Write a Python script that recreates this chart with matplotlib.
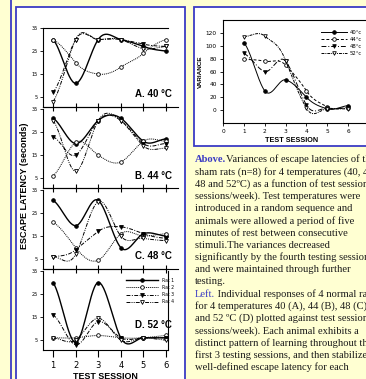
import numpy as np
import matplotlib
matplotlib.use("Agg")
import matplotlib.pyplot as plt
from matplotlib.patches import Rectangle

# ---------------- data ----------------
sessions = [1, 2, 3, 4, 5, 6]
rat_labels = ["Rat 1", "Rat 2", "Rat 3", "Rat 4"]
panel_titles = ["A. 40 °C", "B. 44 °C", "C. 48 °C", "D. 52 °C"]

lat_40 = [[30, 11, 30, 30, 27, 25],
          [30, 20, 15, 18, 24, 30],
          [7, 30, 30, 30, 28, 27],
          [3, 30, 30, 30, 26, 27]]
lat_44 = [[31, 20, 30, 31, 21, 22],
          [6, 20.5, 15, 12, 21, 21],
          [23, 15, 30, 30, 20, 20],
          [30, 8, 30, 30, 19, 18]]
lat_48 = [[30.5, 19.5, 30.5, 10, 16, 15],
          [21, 10, 4.5, 16, 15, 16],
          [6, 9, 17, 19, 16, 14],
          [6, 7, 30, 15, 14, 13]]
lat_52 = [[30, 4, 30, 6, 6, 6],
          [6, 6, 7, 6, 6, 7],
          [16, 3, 13, 6, 6, 6],
          [6, 5, 14.5, 5, 6, 5]]
latency_yticks = [5, 15, 25, 35]

var_labels = ["40°c", "44°c", "48°c", "52°c"]
var_40 = [105, 30, 47, 20, 2, 7]
var_44 = [79, 76, 70, 30, 5, 4]
var_48 = [88, 60, 76, 8, 3, 3]
var_52 = [114, 115, 77, 3, 2, 2]
var_yticks = [0, 20, 40, 60, 80, 100, 120]
var_xticks = [0, 1, 2, 3, 4, 5, 6]

caption_lines = [
    ("Above.", "Variances of escape latencies of the"),
    ("", "sham rats (n=8) for 4 temperatures (40, 44,"),
    ("", "48 and 52ºC) as a function of test sessions (2"),
    ("", "sessions/week). Test temperatures were"),
    ("", "introduced in a random sequence and"),
    ("", "animals were allowed a period of five"),
    ("", "minutes of rest between consecutive"),
    ("", "stimuli.The variances decreased"),
    ("", "significantly by the fourth testing session"),
    ("", "and were maintained through further"),
    ("", "testing."),
    ("Left.", " Individual responses of 4 normal rats"),
    ("", "for 4 temperatures 40 (A), 44 (B), 48 (C),"),
    ("", "and 52 ºC (D) plotted against test sessions (2"),
    ("", "sessions/week). Each animal exhibits a"),
    ("", "distinct pattern of learning throughout the"),
    ("", "first 3 testing sessions, and then stabilizes a"),
    ("", "well-defined escape latency for each"),
]

# ---------------- helpers ----------------
W, H = 366, 379
fig = plt.figure(figsize=(W / 100, H / 100), dpi=100)
YELLOW = "#FFFFD2"
BLUE = "#3B3BC4"
fig.patch.set_facecolor(YELLOW)


def px_axes(x0, y0, x1, y1, z=1):
    ax = fig.add_axes([x0 / W, 1 - y1 / H, (x1 - x0) / W, (y1 - y0) / H])
    ax.set_zorder(z)
    return ax


def smooth(xs, ys, n=30, k=0.25):
    P = np.column_stack([np.asarray(xs, float), np.asarray(ys, float)])
    out = []
    for i in range(len(P) - 1):
        p0 = P[i - 1] if i > 0 else P[i]
        p1, p2 = P[i], P[i + 1]
        p3 = P[i + 2] if i + 2 < len(P) else P[i + 1]
        kk1 = k if i > 0 else k * 2 / 3
        kk2 = k if i + 2 < len(P) else k * 2 / 3
        c1 = p1 + (p2 - p0) * kk1
        c2 = p2 - (p3 - p1) * kk2
        c1[0] = p1[0] + (p2[0] - p1[0]) / 3
        c2[0] = p2[0] - (p2[0] - p1[0]) / 3
        t = np.linspace(0, 1, n)[:, None]
        seg = (1 - t) ** 3 * p1 + 3 * (1 - t) ** 2 * t * c1 + 3 * (1 - t) * t ** 2 * c2 + t ** 3 * p2
        out.append(seg if i == 0 else seg[1:])
    s = np.vstack(out)
    return s[:, 0], s[:, 1]


# ---------------- background / frames ----------------
bg = px_axes(0, 0, W, H, z=0)
bg.set_xlim(0, W)
bg.set_ylim(H, 0)
bg.axis("off")
bg.plot([10.5, 10.5], [0, H], color=BLUE, lw=1.3)
bg.add_patch(Rectangle((15.5, 6.5), 169.5, 400, facecolor="white", edgecolor=BLUE, lw=1.3))
bg.add_patch(Rectangle((193.5, 6.5), 220, 139.5, facecolor="white", edgecolor=BLUE, lw=1.3))

# ---------------- caption ----------------
y0_txt, dy_txt = 162.5, 12.2
for i, (head, body) in enumerate(caption_lines):
    y = y0_txt + i * dy_txt
    if head:
        t = bg.text(195, y, head, family="Liberation Serif", fontsize=7.6, color=BLUE,
                    fontweight="bold" if head == "Above." else "normal", va="baseline")
        bg.annotate(body, xy=(1, 0), xycoords=t, va="bottom", ha="left",
                    family="Liberation Serif", fontsize=7.6, color="#1a1a1a",
                    annotation_clip=False)
    else:
        bg.text(195, y, body, family="Liberation Serif", fontsize=7.6, color="#1a1a1a",
                va="baseline")

# ---------------- left stacked panels ----------------
rat_styles = [
    dict(ls="-", lw=1.0, marker="o", mfc="black", ms=2.6),
    dict(ls=(0, (1, 1)), lw=0.7, marker="o", mfc="white", ms=2.6),
    dict(ls=(0, (4, 1.5, 1, 1.5)), lw=0.7, marker="v", mfc="black", ms=2.8),
    dict(ls=(0, (4, 1.2, 1, 1.2, 1, 1.2)), lw=0.7, marker="v", mfc="white", ms=2.8),
]
panels = [lat_40, lat_44, lat_48, lat_52]
tops = [28, 109, 190, 271]
label_y = [94, 176, 256, 325]
for p, (data, top) in enumerate(zip(panels, tops)):
    ax = px_axes(43, top, 168, top + 79, z=2)
    ax.set_facecolor("none")
    ax.set_xlim(0.558, 6.09)
    ax.set_ylim(0.7, 35)
    for r, series in enumerate(data):
        st = rat_styles[r]
        sx, sy = smooth(sessions, series)
        ax.plot(sx, sy, color="black", ls=st["ls"], lw=st["lw"], clip_on=False,
                solid_capstyle="butt")
        ax.plot(sessions, series, ls="none", marker=st["marker"], mfc=st["mfc"],
                mec="black", mew=0.6, ms=st["ms"], clip_on=False, label=rat_labels[r])
    ax.set_yticks(latency_yticks)
    ax.set_yticklabels([str(v) for v in latency_yticks])
    ax.tick_params(axis="y", direction="out", length=2.5, width=0.6, labelsize=3.6, pad=1)
    ax.set_xticks(sessions)
    for s in ax.spines.values():
        s.set_linewidth(0.8)
    ax.spines["right"].set_visible(p == 3)
    ax.spines["top"].set_visible(p == 0)
    if p < 3:
        ax.tick_params(axis="x", direction="inout", length=6, width=0.8, labelbottom=False)
        ax.axhline(0.7, xmin=0, xmax=(178 - 43) / 125, color="black", lw=0.8, clip_on=False)
    else:
        ax.tick_params(axis="x", direction="out", length=5, width=0.8, labelsize=6, pad=3)
        ax.set_xlabel("TEST SESSION", fontsize=6.4, fontweight="bold", labelpad=1.5,
                      family="Liberation Sans")
        ax.legend(handles=[
            plt.Line2D([], [], color="black", ls=rat_styles[i]["ls"], lw=rat_styles[i]["lw"],
                       marker=rat_styles[i]["marker"], mfc=rat_styles[i]["mfc"], mec="black",
                       mew=0.6, ms=rat_styles[i]["ms"]) for i in range(4)],
            labels=rat_labels, loc="upper left", bbox_to_anchor=((126 - 43) / 125, 1 - (278 - top) / 79),
            frameon=False, fontsize=3.3, handlelength=7, labelspacing=0.45, handletextpad=0.8,
            borderpad=0, borderaxespad=0)
    bg.text(172, label_y[p], panel_titles[p], ha="right", va="center", fontsize=7.0,
            fontweight="bold", family="Liberation Sans", zorder=5)

bg.text(25, 186, "ESCAPE LATENCY (seconds)", rotation=90, ha="center", va="center",
        fontsize=6.5, fontweight="bold", family="Liberation Sans")

# ---------------- right variance chart ----------------
axr = px_axes(223, 20, 369, 123, z=2)
axr.set_facecolor("none")
axr.set_xlim(0, 7)
axr.set_ylim(-20, 140)
var_styles = [
    dict(ls="-", marker="o", mfc="black"),
    dict(ls=(0, (3, 2)), marker="o", mfc="white"),
    dict(ls=(0, (5, 2, 1, 2)), marker="v", mfc="black"),
    dict(ls=(0, (3, 1, 1, 1)), marker="v", mfc="white"),
]
handles = []
for series, st, lab in zip([var_40, var_44, var_48, var_52], var_styles, var_labels):
    sx, sy = smooth(sessions, series)
    axr.plot(sx, sy, color="black", ls=st["ls"], lw=0.7)
    axr.plot(sessions, series, ls="none", marker=st["marker"], mfc=st["mfc"], mec="black",
             mew=0.6, ms=2.6)
    handles.append(plt.Line2D([], [], color="black", ls=st["ls"], lw=0.7, marker=st["marker"],
                              mfc=st["mfc"], mec="black", mew=0.6, ms=2.6))
axr.legend(handles, var_labels, loc="upper left", bbox_to_anchor=((321 - 223) / 146, 1 - (30 - 20) / 103),
           frameon=False, fontsize=3.8, handlelength=5, labelspacing=0.35, handletextpad=0.4,
           borderpad=0, borderaxespad=0)
axr.set_yticks(var_yticks)
axr.set_xticks(var_xticks)
axr.tick_params(direction="out", length=2.5, width=0.6, labelsize=4.2, pad=2)
for s in axr.spines.values():
    s.set_linewidth(0.8)
axr.set_ylabel("VARIANCE", fontsize=4.6, fontweight="bold", family="Liberation Sans", labelpad=2)
bg.text(292, 141, "TEST SESSION", ha="center", va="center", fontsize=5.2, fontweight="bold",
        family="Liberation Sans")

fig.savefig("out.png", dpi=100, facecolor=YELLOW)
